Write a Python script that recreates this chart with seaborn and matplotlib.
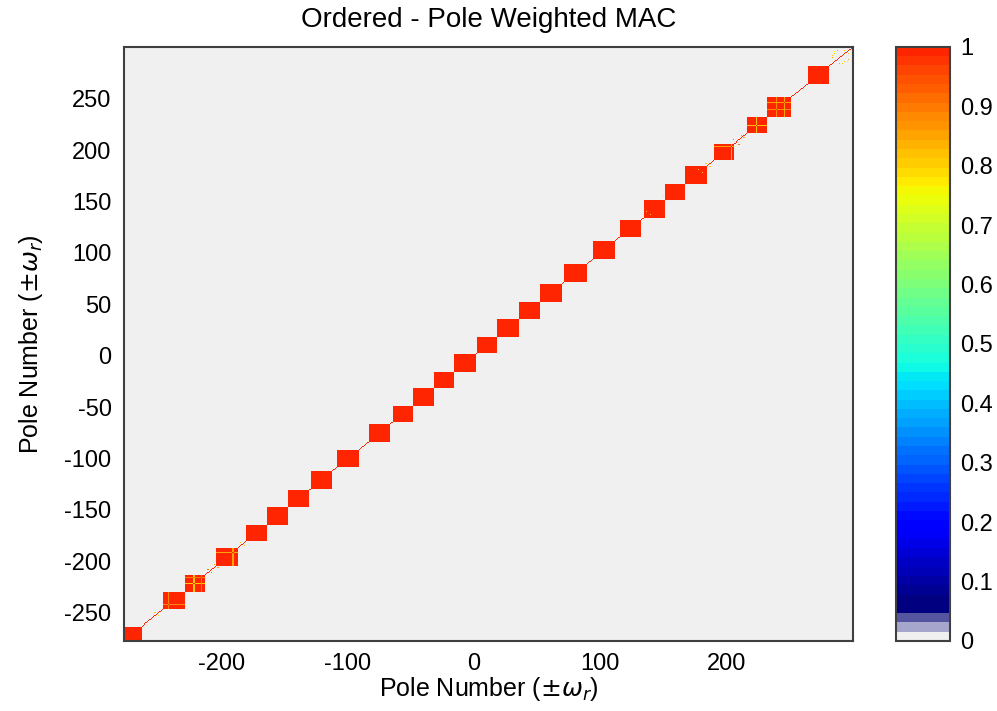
import numpy as np
import pandas as pd
import matplotlib
matplotlib.use('Agg')
import matplotlib.pyplot as plt
import seaborn as sns
from matplotlib.colors import ListedColormap

# pole numbers on both axes (±ω_r)
pole_min, pole_max = -277, 300

# diagonal blocks of correlated poles: first / last pole of each block
block_start = [-277, -246, -229, -204, -180, -164, -147, -129, -108, -83, -64, -48, -31, -15,
               3, 19, 36, 53, 72, 95, 116, 135, 152, 168, 191, 217, 233, 265]
block_end = [-264, -230, -214, -188, -165, -148, -131, -113, -92, -67, -49, -32, -16, 1,
             18, 35, 52, 69, 89, 111, 132, 151, 167, 184, 206, 232, 251, 281]

# poles inside blocks that only partly agree (orange / yellow streaks)
weak_pole = [-242, -222, -216, -191, 204, 224, 240, 246]
weak_mac = [0.88, 0.8, 0.9, 0.85, 0.85, 0.82, 0.88, 0.85]

# scattered off-diagonal hits
speck_row = [286, 288, 292, 296, 297, 284, 210, 212, 187, 181, -208, -206, -185, -250, 150, 140]
speck_col = [294, 297, 284, 286, 294, 290, 206, 214, 184, 178, -211, -203, -182, -253, 155, 137]
speck_mac = [0.8, 0.85, 0.8, 0.75, 0.8, 0.85, 0.9, 0.85, 0.8, 0.8, 0.9, 0.85, 0.8, 0.8, 0.75, 0.8]

poles = np.arange(pole_min, pole_max + 1)
n = len(poles)
mac = np.zeros((n, n))
np.fill_diagonal(mac, 1.0)
for a, b in zip(block_start, block_end):
    i0, i1 = a - pole_min, b - pole_min + 1
    mac[i0:i1, i0:i1] = 1.0
for p, v in zip(weak_pole, weak_mac):
    for a, b in zip(block_start, block_end):
        if a <= p <= b:
            i0, i1 = a - pole_min, b - pole_min + 1
            k = p - pole_min
            mac[k, i0:i1] = v
            mac[i0:i1, k] = v
            mac[k, k] = 1.0
for r, c, v in zip(speck_row, speck_col, speck_mac):
    mac[r - pole_min, c - pole_min] = v
    mac[c - pole_min, r - pole_min] = v

df = pd.DataFrame(mac, index=poles, columns=poles)

# MATLAB-like jet, 64 levels, lowest levels washed out
lev = (np.arange(64) + 0.5) / 64
colors = plt.get_cmap('jet')(np.clip(0.9375 * lev - 0.0625, 0, 1))
colors[0] = [0.941, 0.941, 0.941, 1]
colors[1] = [0.65, 0.65, 0.80, 1]
colors[2] = [0.33, 0.33, 0.63, 1]
cmap = ListedColormap(colors)

sns.set_theme(style='white')
plt.rcParams['font.family'] = ['Liberation Sans', 'DejaVu Sans']
plt.rcParams['text.color'] = 'black'
plt.rcParams['axes.labelcolor'] = 'black'
plt.rcParams['xtick.color'] = 'black'
plt.rcParams['ytick.color'] = 'black'

fig = plt.figure(figsize=(9.97, 7.11), dpi=100)
ax = fig.add_axes([0.1244, 0.0985, 0.7312, 0.8355])
cax = fig.add_axes([0.8987, 0.0985, 0.0542, 0.8355])

sns.heatmap(df, ax=ax, cbar_ax=cax, cmap=cmap, vmin=0, vmax=1,
            xticklabels=False, yticklabels=False, rasterized=True)
ax.invert_yaxis()

xt = np.arange(-200, 201, 100)
yt = np.arange(-250, 251, 50)
ax.set_xticks(xt - pole_min + 0.5)
ax.set_xticklabels([str(v) for v in xt], fontsize=17)
ax.set_yticks(yt - pole_min + 0.5)
ax.set_yticklabels([str(v) for v in yt], fontsize=17, rotation=0)
ax.tick_params(direction='in', length=5, color='#303030', pad=9)
for s in ax.spines.values():
    s.set_visible(True)
    s.set_color('#404040')
    s.set_linewidth(1.5)

ax.set_xlabel(r'Pole Number ($\pm\omega_r$)', fontsize=18, labelpad=0)
ax.set_ylabel(r'Pole Number ($\pm\omega_r$)', fontsize=18, labelpad=14)
ax.set_title('Ordered - Pole Weighted MAC', fontsize=20, pad=14)

cbar = ax.collections[0].colorbar
cb_ticks = np.round(np.arange(0, 1.01, 0.1), 1)
cbar.set_ticks(cb_ticks)
cbar.set_ticklabels(['0'] + [f'{t:.1f}' for t in cb_ticks[1:-1]] + ['1'])
cax.tick_params(direction='in', left=True, right=True, length=5, labelsize=17,
                color='#303030', pad=7)
cbar.outline.set_edgecolor('#404040')
cbar.outline.set_linewidth(1.5)

fig.savefig('out.png', dpi=100)
